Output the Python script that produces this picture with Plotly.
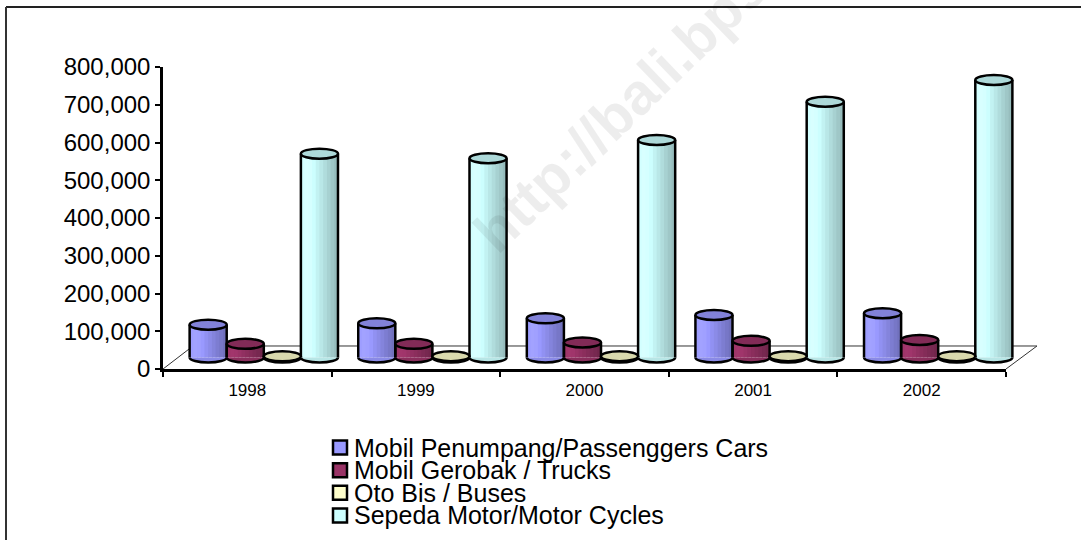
import plotly.graph_objects as go

# ---------------- data ----------------
years = ["1998", "1999", "2000", "2001", "2002"]
series_names = [
    "Mobil Penumpang/Passenggers Cars",
    "Mobil Gerobak / Trucks",
    "Oto Bis / Buses",
    "Sepeda Motor/Motor Cycles",
]
cars = [87000, 90600, 103800, 112600, 117100]
trucks = [36300, 36300, 39700, 44200, 46400]
buses = [3150, 3210, 3290, 3370, 3480]
motorcycles = [539900, 527700, 576200, 677600, 735100]
y_ticks = [0, 100000, 200000, 300000, 400000, 500000, 600000, 700000, 800000]
legend_colors = ["#9999FF", "#993366", "#FFFFCC", "#CCFFFF"]
watermark = "http://bali.bps.go.id"

series = [cars, trucks, buses, motorcycles]

# ---------------- geometry (pixels) ----------------
W, H = 1081, 540
PL, PR_AXIS, PR, PT, PB = 163, 1006, 1040, 67, 369
plot_w = PR - PL
plot_h = PB - PT
cat_px = (PR_AXIS - PL) / len(years)
DX, DY = 16.5, 11.5          # depth shift of the bar row
y_max = y_ticks[-1]
px_per_val = plot_h / y_max


def px(x):
    return (x - PL) / plot_w


def py(y):
    return (PB - y) / plot_h


x2_lo = -0.5 - DX / cat_px
x2_range = [x2_lo, x2_lo + plot_w / cat_px]
dy_val = DY / px_per_val
y2_range = [-dy_val, y_max - dy_val]

bar_w = 0.22
offsets = [-0.33, -0.11, 0.11, 0.33]
ry = 5 / px_per_val
n_str = 10
xpos = list(range(len(years)))


def shade(hexc, f):
    r, g, b = int(hexc[1:3], 16), int(hexc[3:5], 16), int(hexc[5:7], 16)
    return "rgb(%d,%d,%d)" % (min(255, round(r * f)), min(255, round(g * f)), min(255, round(b * f)))


prof_pts = [(0.0, 1.02), (0.2, 1.07), (0.45, 0.95), (0.75, 0.82), (1.0, 0.72)]


def prof(t):
    for (t0, f0), (t1, f1) in zip(prof_pts[:-1], prof_pts[1:]):
        if t0 <= t <= t1:
            return f0 + (f1 - f0) * (t - t0) / (t1 - t0)
    return prof_pts[-1][1]


fig = go.Figure()

# helper trace so the category axis carries the year labels
fig.add_trace(go.Scatter(x=years, y=[0] * len(years), mode="markers",
                         marker=dict(opacity=0), hoverinfo="skip",
                         showlegend=False, xaxis="x", yaxis="y"))

shapes = []
sw = bar_w / n_str
for si, (vals, col, name) in enumerate(zip(series, legend_colors, series_names)):
    off = offsets[si]
    for k in range(n_str):
        t = (k + 0.5) / n_str
        wk = sw * (1.25 if k < n_str - 1 else 1.0)
        fig.add_trace(go.Bar(
            x=xpos, y=vals, base=0, offset=off - bar_w / 2 + k * sw, width=wk,
            marker=dict(color=shade(col, prof(t)), line=dict(width=0)),
            xaxis="x2", yaxis="y2", showlegend=False, name=name,
            hovertemplate=name + "<br>%{y:,}<extra></extra>" if k == 4 else None,
            hoverinfo=None if k == 4 else "skip",
        ))
    # cylinder sides
    sx, sy = [], []
    for xi, v in zip(xpos, vals):
        xl = xi + off - bar_w / 2
        xr = xi + off + bar_w / 2
        sx += [xl, xl, None, xr, xr, None]
        sy += [0, v, None, 0, v, None]
    fig.add_trace(go.Scatter(x=sx, y=sy, mode="lines",
                             line=dict(color="black", width=2.5),
                             xaxis="x2", yaxis="y2", hoverinfo="skip",
                             showlegend=False))
    kq = 0.5523
    for xi, v in zip(xpos, vals):
        cx = xi + off
        rx = bar_w / 2
        # bottom half ellipse
        path = ("M %f,0 C %f,%f %f,%f %f,%f C %f,%f %f,%f %f,0" % (
            cx - rx, cx - rx, -kq * ry, cx - kq * rx, -ry, cx, -ry,
            cx + kq * rx, -ry, cx + rx, -kq * ry, cx + rx))
        shapes.append(dict(type="path", xref="x2", yref="y2", path=path,
                           fillcolor=shade(col, 0.9),
                           line=dict(color="black", width=2.5)))
        # top ellipse
        shapes.append(dict(type="circle", xref="x2", yref="y2",
                           x0=cx - rx, x1=cx + rx, y0=v - ry, y1=v + ry,
                           fillcolor=shade(col, 0.85),
                           line=dict(color="black", width=2.5)))

# floor of the 3-D plot
floor_path = "M %f,%f L %f,%f L %f,%f L %f,%f" % (
    px(PL), py(PB), px(PL + 2 * DX - 3), py(PB - 2 * DY),
    px(PR_AXIS + 2 * DX - 2), py(PB - 2 * DY), px(PR_AXIS), py(PB))
shapes.insert(0, dict(type="path", xref="paper", yref="paper", path=floor_path,
                      layer="below", line=dict(color="#333333", width=1)))

# frame lines (top and left)
shapes.append(dict(type="line", xref="paper", yref="paper",
                   x0=px(6), x1=px(W + 5), y0=py(7), y1=py(7),
                   line=dict(color="#222222", width=2)))
shapes.append(dict(type="line", xref="paper", yref="paper",
                   x0=px(6), x1=px(6), y0=py(7), y1=py(H + 5),
                   line=dict(color="#333333", width=2)))

annotations = []
# watermark
annotations.append(dict(text="<b>" + watermark + "</b>", xref="paper", yref="paper",
                        x=px(676), y=py(56), showarrow=False, textangle=-44,
                        font=dict(family="Liberation Sans, Arial", size=58,
                                  color="rgba(0,0,0,0.07)"),
                        xanchor="center", yanchor="middle"))

# legend (drawn manually for Excel-like tight spacing)
leg_y0, leg_dy = 447.6, 22.6
for i, (name, col) in enumerate(zip(series_names, legend_colors)):
    yc = leg_y0 + i * leg_dy
    shapes.append(dict(type="rect", xref="paper", yref="paper",
                       x0=px(340 - 7), x1=px(340 + 7), y0=py(yc + 7), y1=py(yc - 7),
                       fillcolor=col, line=dict(color="black", width=2.5)))
    annotations.append(dict(text=name, xref="paper", yref="paper",
                            x=px(352), y=py(yc), showarrow=False,
                            xanchor="left", yanchor="middle",
                            font=dict(family="Liberation Sans, Arial", size=25,
                                      color="black")))

fig.update_layout(
    width=W, height=H,
    margin=dict(l=PL, r=W - PR, t=PT, b=H - PB, pad=0),
    paper_bgcolor="white", plot_bgcolor="rgba(0,0,0,0)",
    barmode="overlay", showlegend=False,
    font=dict(family="Liberation Sans, Arial", color="black"),
    xaxis=dict(type="category", range=[-0.5, len(years) - 0.5],
               domain=[0, (PR_AXIS - PL) / plot_w],
               tickson="boundaries", ticks="outside", ticklen=5, tickwidth=2,
               tickcolor="black", showline=True, linecolor="black", linewidth=2.5,
               showgrid=False, zeroline=False, tickfont=dict(size=17),
               ticklabelstandoff=4, anchor="y", fixedrange=True),
    yaxis=dict(range=[0, y_max], tickvals=y_ticks, tickformat=",d",
               ticks="outside", ticklen=5, tickwidth=2, tickcolor="black",
               showline=True, linecolor="black", linewidth=2.5,
               showgrid=False, zeroline=False, tickfont=dict(size=24),
               anchor="x", fixedrange=True),
    xaxis2=dict(range=x2_range, domain=[0, 1], visible=False, anchor="y2",
                fixedrange=True),
    yaxis2=dict(range=y2_range, domain=[0, 1], visible=False, anchor="x2",
                fixedrange=True),
    shapes=shapes,
    annotations=annotations,
)

fig.write_html("out.html", config={"displayModeBar": False},
               post_script="document.body.style.margin='0';"
                           "document.body.style.overflow='hidden';")
